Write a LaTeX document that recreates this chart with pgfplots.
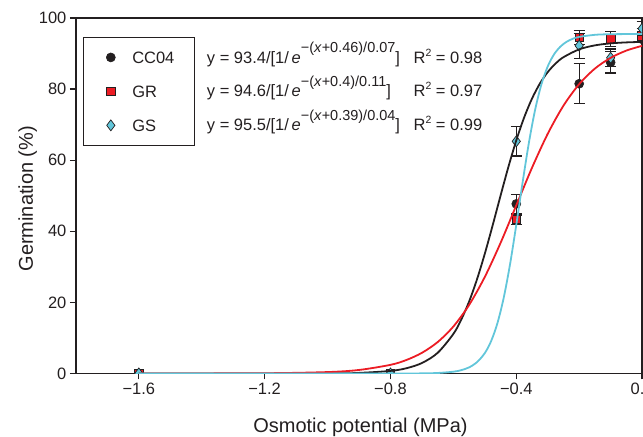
\documentclass[border=0pt]{standalone}
\usepackage{fontspec}
\setmainfont{Liberation Sans}
\usepackage{pgfplots}
\pgfplotsset{compat=1.18}
\usetikzlibrary{calc}

\definecolor{ink}{HTML}{231F20}
\definecolor{fitred}{HTML}{EC1C24}
\definecolor{fitcyan}{HTML}{62C6DA}

\newcommand{\fs}{\fontsize{16.5}{19.8}\selectfont}
\newcommand{\fl}{\fontsize{20}{24}\selectfont}
\newcommand{\sups}[1]{\raisebox{10.5pt}{\fontsize{14.5}{16}\selectfont #1}}
\newcommand{\sqr}{\raisebox{7pt}{\fontsize{10.5}{12}\selectfont 2}}

% germination (%) per osmotic potential: x, mean, error
\pgfplotstableread{
x y e
-1.6 0 0
-0.8 0 0
-0.4 47.7 2.7
-0.2 81.5 5.6
-0.1 87.5 3.0
0.0 94.0 2.0
}\ccdata
\pgfplotstableread{
x y e
-1.6 0 0
-0.8 0 0
-0.4 43.3 1.3
-0.2 94.5 2.0
-0.1 94.1 2.1
0.0 95.0 2.0
}\grdata
\pgfplotstableread{
x y e
-1.6 0 0
-0.8 0 0
-0.4 65.3 4.1
-0.2 92.2 3.5
-0.1 88.8 2.5
0.0 97.0 2.0
}\gsdata

\begin{document}
\begin{tikzpicture}
\begin{axis}[
  scale only axis,
  width=567pt, height=356pt,
  xmin=-1.8, xmax=0, ymin=0, ymax=100,
  xtick={-1.6,-1.2,-0.8,-0.4,0},
  xticklabels={−1.6,−1.2,−0.8,−0.4,0.0},
  ytick={0,20,...,100},
  xtick pos=bottom, ytick pos=left,
  tick align=outside,
  major tick length=6pt,
  every tick/.style={ink, line width=1.3pt},
  axis line style={ink, line width=1.8pt},
  ticklabel style={font=\fs, text=ink},
  /pgf/number format/assume math mode=true,
  xlabel={Osmotic potential (MPa)},
  ylabel={Germination (\%)},
  label style={font=\fl, text=ink},
  xlabel style={at={(axis description cs:0.5026,-0.1657)}, anchor=base},
  ylabel style={at={(axis description cs:-0.0758,0.4916)}, anchor=base},
  clip marker paths=true,
  error bars/error bar style={ink, line width=1.2pt},
  error bars/error mark options={rotate=90, mark size=5.5pt, ink, line width=1.2pt},
  legend image code/.code={
    \path (-7pt,0pt) (6pt,0pt);
    \draw[#1] plot coordinates {(0pt,0pt)};
  },
  legend style={
    at={(axis description cs:0.0123,0.9466)}, anchor=north west,
    draw=ink, line width=1pt, font=\fs, text=ink,
    inner xsep=20pt, inner ysep=14pt, row sep=22pt,
    nodes={inner sep=0pt, text height=12pt, text depth=0pt},
    cells={anchor=west},
    /tikz/every odd column/.append style={column sep=15pt},
  },
]

\addplot[only marks, mark=*, mark size=4.5pt,
  mark options={draw=ink, fill=ink, line width=0.6pt},
  error bars/.cd, y dir=both, y explicit]
  table[x=x, y=y, y error=e] {\ccdata};
\addlegendentry{CC04}

\addplot[only marks, mark=square*, mark size=4.3pt,
  mark options={draw=ink, fill=fitred, line width=0.7pt},
  error bars/.cd, y dir=both, y explicit]
  table[x=x, y=y, y error=e] {\grdata};
\addlegendentry{GR}

\addplot[only marks, mark=diamond*, mark size=5.5pt,
  mark options={draw=ink, fill=fitcyan, line width=0.7pt},
  error bars/.cd, y dir=both, y explicit]
  table[x=x, y=y, y error=e] {\gsdata};
\addlegendentry{GS}

% fitted curves
\addplot[forget plot, ink, line width=1.8pt, smooth] coordinates {
  (-1.6,0) (-1.0,0.04) (-0.9,0.17) (-0.8,0.72) (-0.75,1.46) (-0.7,2.94)
  (-0.65,5.80) (-0.6,11.13) (-0.575,15.14) (-0.55,20.23) (-0.525,26.45)
  (-0.5,33.71) (-0.475,41.71) (-0.45,50.03) (-0.425,58.13) (-0.4,65.57)
  (-0.375,72.01) (-0.35,77.33) (-0.325,81.55) (-0.3,84.78) (-0.275,87.19)
  (-0.25,88.97) (-0.2,91.18) (-0.15,92.30) (-0.1,92.86) (-0.05,93.13) (0,93.27)
};
\addplot[forget plot, fitred, line width=1.8pt, smooth] coordinates {
  (-1.6,0) (-1.2,0.07) (-1.0,0.40) (-0.9,0.99) (-0.8,2.43) (-0.75,3.77)
  (-0.7,5.81) (-0.65,8.83) (-0.6,13.21) (-0.55,19.27) (-0.5,27.17)
  (-0.45,36.73) (-0.4,47.3) (-0.35,57.87) (-0.3,67.43) (-0.25,75.34)
  (-0.2,81.39) (-0.15,85.77) (-0.1,88.79) (-0.05,90.83) (0,92.17)
};
\addplot[forget plot, fitcyan, line width=1.8pt, smooth] coordinates {
  (-1.6,0) (-0.8,0) (-0.7,0.04) (-0.65,0.14) (-0.6,0.50) (-0.575,0.93)
  (-0.55,1.72) (-0.525,3.16) (-0.5,5.74) (-0.48,9.10) (-0.46,14.14)
  (-0.44,21.27) (-0.42,30.64) (-0.40,41.81) (-0.38,53.69) (-0.36,64.86)
  (-0.34,74.23) (-0.32,81.36) (-0.30,86.39) (-0.28,89.76) (-0.26,91.93)
  (-0.24,93.31) (-0.22,94.16) (-0.2,94.68) (-0.15,95.26) (-0.1,95.43) (0,95.5)
};

\node[anchor=base west, font=\fs, text=ink, inner sep=0pt] at (axis cs:-1.384,87.2)
  {y = 93.4/[1/\,\textit{e}\sups{−(\textit{x}+0.46)/0.07}]};
\node[anchor=base west, font=\fs, text=ink, inner sep=0pt] at (axis cs:-1.384,77.8)
  {y = 94.6/[1/\,\textit{e}\sups{−(\textit{x}+0.4)/0.11}]};
\node[anchor=base west, font=\fs, text=ink, inner sep=0pt] at (axis cs:-1.384,68.3)
  {y = 95.5/[1/\,\textit{e}\sups{−(\textit{x}+0.39)/0.04}]};
\node[anchor=base west, font=\fs, text=ink, inner sep=0pt] at (axis cs:-0.727,87.2)
  {R\sqr\ = 0.98};
\node[anchor=base west, font=\fs, text=ink, inner sep=0pt] at (axis cs:-0.727,77.8)
  {R\sqr\ = 0.97};
\node[anchor=base west, font=\fs, text=ink, inner sep=0pt] at (axis cs:-0.727,68.3)
  {R\sqr\ = 0.99};
\end{axis}
\pgfresetboundingbox
\path ($(current axis.south west)+(-76pt,-63pt)$) rectangle ($(current axis.north east)+(0.9pt,18pt)$);
\end{tikzpicture}
\end{document}
